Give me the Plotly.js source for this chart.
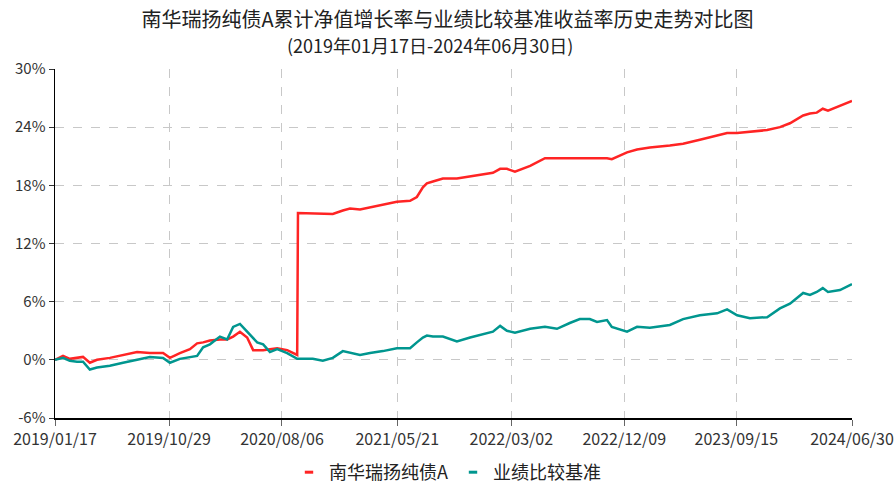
<!DOCTYPE html>
<html>
<head>
<meta charset="utf-8">
<script src="https://cdn.plot.ly/plotly-3.0.1.min.js"></script>
<style>
html,body{margin:0;padding:0;background:#fff;}
#chart{width:895px;height:491px;}
</style>
</head>
<body>
<div id="chart"></div>
<script>
var dates = [
"2019-01-17","2019-02-06","2019-02-23","2019-03-13","2019-03-28","2019-04-14","2019-05-02","2019-06-03",
"2019-07-06","2019-08-10","2019-09-11","2019-10-14","2019-10-31","2019-11-25","2019-12-20","2020-01-07",
"2020-01-22","2020-02-08","2020-03-04","2020-03-22","2020-04-06","2020-04-23","2020-05-11","2020-05-26",
"2020-06-05","2020-06-20","2020-07-07","2020-07-25","2020-08-19","2020-09-13","2020-09-15","2020-10-22",
"2020-11-16","2020-12-11","2021-01-05","2021-01-23","2021-02-17","2021-03-14","2021-04-15","2021-05-20",
"2021-06-22","2021-07-09","2021-07-24","2021-08-03","2021-08-18","2021-09-12","2021-10-17","2021-11-19",
"2021-12-21","2022-01-15","2022-02-02","2022-02-19","2022-03-11","2022-04-18","2022-05-25","2022-06-24",
"2022-07-26","2022-08-20","2022-09-14","2022-10-02","2022-10-27","2022-11-08","2022-12-16","2023-01-10",
"2023-02-11","2023-04-02","2023-05-05","2023-06-16","2023-07-29","2023-08-23","2023-09-17","2023-10-19",
"2023-12-01","2024-01-02","2024-01-27","2024-02-29","2024-03-17","2024-04-03","2024-04-18","2024-05-01",
"2024-05-31","2024-06-30"
];
var fundReturn = [
0.0,0.4,0.1,0.2,0.3,-0.3,0.0,0.2,
0.5,0.8,0.7,0.7,0.2,0.7,1.1,1.7,
1.8,2.0,2.1,2.1,2.4,2.9,2.3,1.0,
1.0,1.0,1.1,1.2,1.0,0.5,15.15,15.1,
15.1,15.05,15.4,15.6,15.5,15.7,16.0,16.3,
16.4,16.8,17.8,18.2,18.4,18.7,18.7,18.9,
19.1,19.3,19.7,19.7,19.4,20.0,20.8,20.8,
20.8,20.8,20.8,20.8,20.8,20.7,21.4,21.7,
21.9,22.1,22.3,22.7,23.1,23.4,23.4,23.5,
23.7,24.0,24.4,25.2,25.4,25.5,25.9,25.7,
26.2,26.7
];
var benchReturn = [
0.0,0.2,-0.1,-0.2,-0.2,-1.0,-0.8,-0.6,
-0.3,0.0,0.3,0.2,-0.3,0.1,0.3,0.4,
1.3,1.6,2.4,2.1,3.4,3.7,2.9,2.2,
1.8,1.6,0.8,1.1,0.7,0.1,0.1,0.1,
-0.1,0.2,0.9,0.7,0.5,0.7,0.9,1.2,
1.2,1.8,2.3,2.5,2.4,2.4,1.9,2.3,
2.6,2.9,3.5,3.0,2.8,3.2,3.4,3.2,
3.8,4.2,4.2,3.9,4.1,3.4,2.9,3.4,
3.3,3.6,4.2,4.6,4.8,5.2,4.6,4.3,
4.4,5.3,5.8,6.9,6.7,7.0,7.4,7.0,
7.2,7.8
];
var seriesNames = ["南华瑞扬纯债A","业绩比较基准"];
var seriesColors = ["#ff2424","#00968f"];
var titleLine1 = "南华瑞扬纯债A累计净值增长率与业绩比较基准收益率历史走势对比图";
var titleLine2 = "(2019年01月17日-2024年06月30日)";
var xTickVals = ["2019-01-17","2019-10-29","2020-08-06","2021-05-21","2022-03-02","2022-12-09","2023-09-15","2024-06-30"];
var xTickText = ["2019/01/17","2019/10/29","2020/08/06","2021/05/21","2022/03/02","2022/12/09","2023/09/15","2024/06/30"];
var yTickVals = [-6,0,6,12,18,24,30];
var yTickText = ["-6%","0%","6%","12%","18%","24%","30%"];

var traces = [
  {x:dates,y:fundReturn,type:"scatter",mode:"lines",name:seriesNames[0],showlegend:false,
   line:{color:seriesColors[0],width:2.5},hoverinfo:"x+y"},
  {x:dates,y:benchReturn,type:"scatter",mode:"lines",name:seriesNames[1],showlegend:false,
   line:{color:seriesColors[1],width:2.5},hoverinfo:"x+y"},
  {x:[null],y:[null],type:"scatter",mode:"markers",name:seriesNames[0],showlegend:true,
   marker:{symbol:"line-ew",size:6,line:{color:seriesColors[0],width:3}}},
  {x:[null],y:[null],type:"scatter",mode:"markers",name:seriesNames[1],showlegend:true,
   marker:{symbol:"line-ew",size:6,line:{color:seriesColors[1],width:3}}}
];
var fontFam = "'Noto Sans CJK SC', 'Liberation Sans', Arial, sans-serif";
var layout = {
  width:895,height:491,
  paper_bgcolor:"#fff",plot_bgcolor:"#fff",
  margin:{l:55,r:43,t:69,b:73},
  font:{family:fontFam,color:"#333"},
  title:{text:titleLine1,
    x:0.5,xref:"container",xanchor:"center",y:1-20/491,yref:"container",yanchor:"middle",
    font:{size:20,family:fontFam,color:"#222"}},
  annotations:[{text:titleLine2,xref:"paper",yref:"paper",x:(430-55)/797,y:1+(69-45)/349,xanchor:"center",yanchor:"middle",
    showarrow:false,font:{size:18,family:fontFam,color:"#222"}}],
  xaxis:{type:"date",range:["2019-01-17","2024-06-30"],tickmode:"array",tickvals:xTickVals,ticktext:xTickText,
    showgrid:true,gridcolor:"#c8c8c8",griddash:"dash",gridwidth:1,
    showline:true,linecolor:"#000",linewidth:1.5,ticks:"outside",ticklen:6,tickcolor:"#666",
    tickfont:{size:16,color:"#333",family:fontFam},zeroline:false,fixedrange:true},
  yaxis:{range:[-6,30],tickmode:"array",tickvals:yTickVals,ticktext:yTickText,
    showgrid:true,gridcolor:"#c8c8c8",griddash:"dash",gridwidth:1,
    showline:true,linecolor:"#000",linewidth:1.5,ticks:"outside",ticklen:5,tickcolor:"#333",
    tickfont:{size:15,color:"#333",family:fontFam},zeroline:false,fixedrange:true},
  legend:{orientation:"h",x:0.5,xanchor:"center",xref:"container",y:-0.035,yref:"container",yanchor:"bottom",
    font:{size:18,color:"#222",family:fontFam},itemwidth:30,tracegroupgap:0,bgcolor:"rgba(0,0,0,0)"},
  showlegend:true
};
Plotly.newPlot("chart",traces,layout,{displayModeBar:false,staticPlot:true});
</script>
</body>
</html>
